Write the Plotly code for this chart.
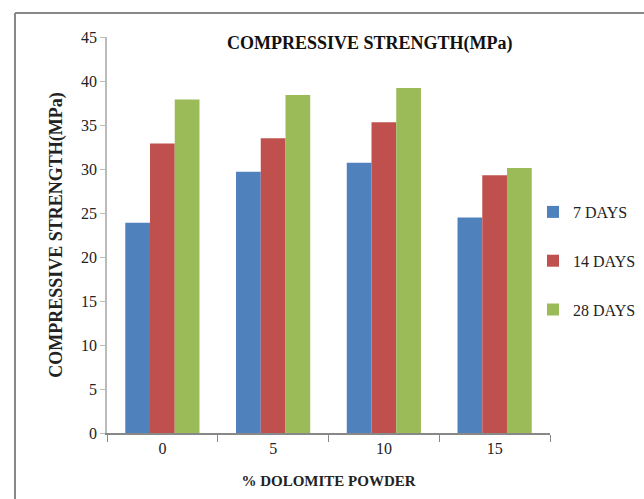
import plotly.graph_objects as go

categories = ["0", "5", "10", "15"]
days7 = [23.9, 29.7, 30.7, 24.5]
days14 = [32.9, 33.5, 35.3, 29.3]
days28 = [37.9, 38.4, 39.2, 30.1]
series_names = ["7 DAYS", "14 DAYS", "28 DAYS"]
colors = ["#4F81BD", "#C0504D", "#9BBB59"]

fig = go.Figure()
for i, (name, vals) in enumerate(zip(series_names, [days7, days14, days28])):
    fig.add_trace(go.Bar(x=categories, y=vals, name=name, marker_color=colors[i],
                         marker_line_width=0, legendgroup=name))

L, R, T, B = 107, 94, 37, 66
W, H = 644, 499
pw, ph = W - L - R, H - T - B
def px(x):
    return (x - L) / pw
def py(y):
    return (H - B - y) / ph

font_family = "Liberation Serif"
fig.update_layout(
    width=W, height=H,
    margin=dict(l=L, r=R, t=T, b=B, autoexpand=False),
    paper_bgcolor="white", plot_bgcolor="white",
    font=dict(family=font_family, color="#222", size=16),
    barmode="group", bargap=0.33, bargroupgap=0,
    showlegend=True,
    legend=dict(x=px(533), y=py(195), xanchor="left", yanchor="top",
                font=dict(size=16, family=font_family, color="#222"),
                tracegroupgap=25, itemwidth=30, bgcolor="rgba(0,0,0,0)"),
    xaxis=dict(type="category", showline=True, linecolor="#888", linewidth=1.5,
               ticks="outside", ticklen=7, tickcolor="#888", tickson="boundaries",
               showgrid=False, tickfont=dict(size=16),
               title=dict(text="<b>% DOLOMITE POWDER</b>", font=dict(size=15), standoff=20)),
    yaxis=dict(range=[0, 45], dtick=5, showline=True, linecolor="#bbb", linewidth=1.5,
               ticks="outside", ticklen=5, tickcolor="#bbb", showgrid=False,
               zeroline=False, tickfont=dict(size=16),
               title=dict(text="<b>COMPRESSIVE STRENGTH(MPa)</b>", font=dict(size=18), standoff=14)),
)

fig.add_annotation(text="<b>COMPRESSIVE STRENGTH(MPa)</b>", xref="paper", yref="paper",
                   x=px(370), y=py(44), showarrow=False, xanchor="center", yanchor="middle",
                   font=dict(size=18, family=font_family, color="#111"))

fig.add_shape(type="line", xref="paper", yref="paper", x0=px(15), x1=px(644),
              y0=py(13), y1=py(13), line=dict(color="#888", width=2))
fig.add_shape(type="line", xref="paper", yref="paper", x0=px(15), x1=px(15),
              y0=py(13), y1=py(500), line=dict(color="#888", width=2))

fig.write_html("out.html")
